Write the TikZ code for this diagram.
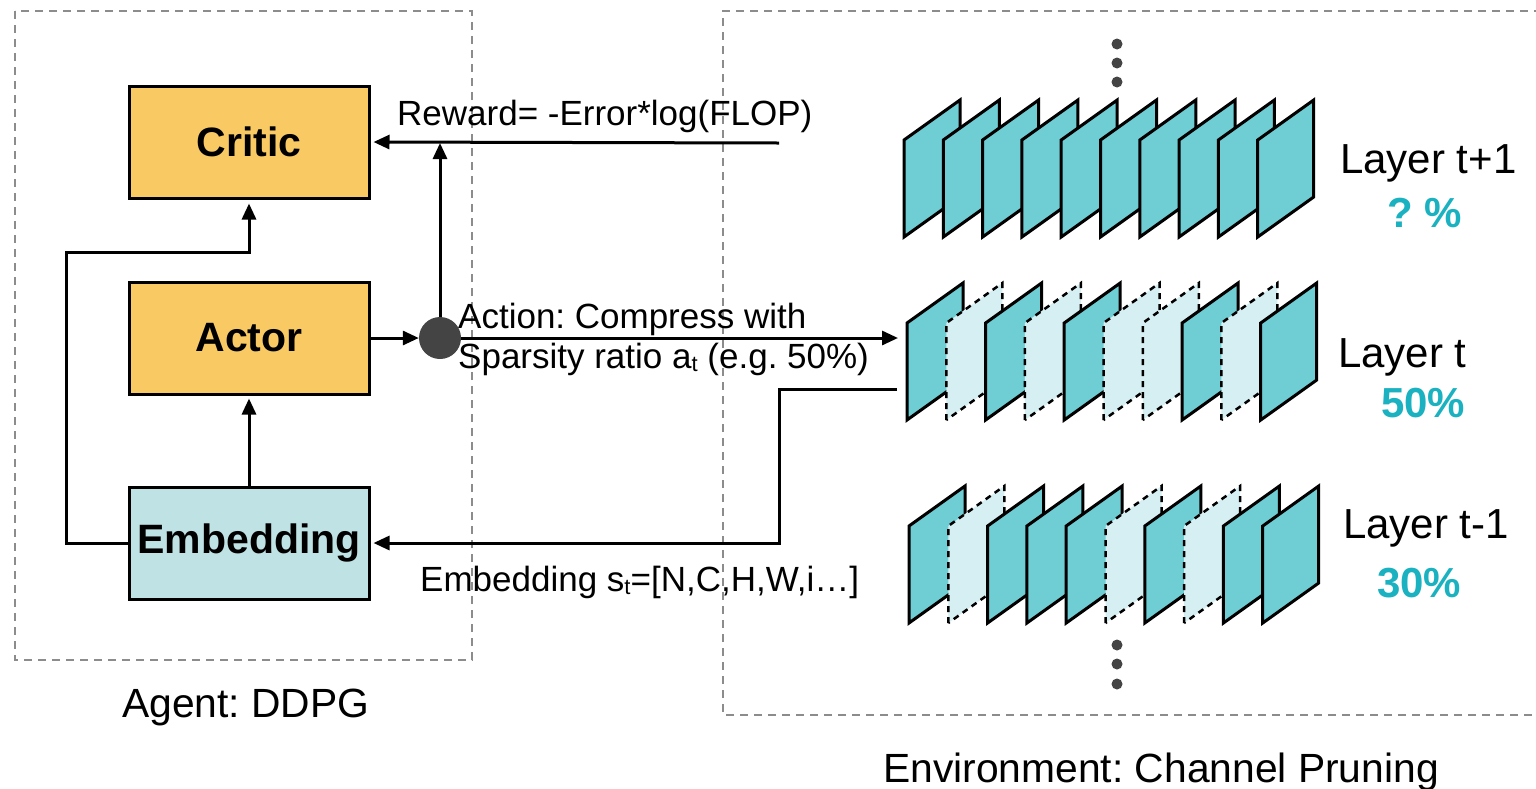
\documentclass[tikz,border=0pt]{standalone}
\usepackage{fontspec}
\setmainfont{Liberation Sans}
\usetikzlibrary{arrows.meta}
\frenchspacing

\definecolor{boxorange}{HTML}{F9C964}
\definecolor{boxblue}{HTML}{BFE2E5}
\definecolor{chan}{HTML}{6FCDD4}
\definecolor{chanpruned}{HTML}{D6EFF2}
\definecolor{pct}{HTML}{1AB1C0}
\definecolor{framegray}{HTML}{8C8C8C}
\definecolor{dotgray}{HTML}{444444}

% small lowered letter used for the subscript t
\newcommand\lowt[1]{{\fontsize{22}{24}\selectfont\raisebox{-3pt}{#1}}}

% one channel plane, given its bottom-left corner and a style
\newcommand\channel[3]{%
  \draw[#3] (#1,#2) -- ++(0,-97) -- ++(56,-40) -- ++(0,97) -- cycle;}

\tikzset{
  module/.style={draw=black, line width=3pt, minimum width=240pt,
    minimum height=112pt, inner sep=0pt,
    font=\fontsize{41}{44}\selectfont\bfseries},
  link/.style={line width=3pt, draw=black},
  arr/.style={link, -{Triangle[length=16pt,width=14pt]}},
  region/.style={draw=framegray, line width=1.6pt, dash pattern=on 8pt off 6pt},
  keep/.style={fill=chan, draw=black, line width=3pt, line join=miter},
  pruned/.style={fill=chanpruned, draw=black, line width=2.5pt,
    dash pattern=on 6pt off 5pt},
  lbl/.style={inner sep=0pt, font=\fontsize{35}{40}\selectfont},
  layerlbl/.style={inner sep=0pt, font=\fontsize{42}{46}\selectfont},
  pctlbl/.style={inner sep=0pt, text=pct, font=\fontsize{42}{46}\selectfont\bfseries},
  caption/.style={inner sep=0pt, font=\fontsize{40.8}{44}\selectfont},
  vdot/.style={fill=dotgray}
}

\begin{document}
\begin{tikzpicture}[x=1pt,y=-1pt]
\useasboundingbox (0,0) rectangle (1536,788);
\fill[white] (0,0) rectangle (1536,788);

% agent and environment frames
\draw[region] (15,11) rectangle (472,660);
\draw[region] (1560,715) -- (723,715) -- (723,11) -- (1560,11);

% DDPG modules
\node[module, fill=boxorange] (critic) at (249,142) {Critic};
\node[module, fill=boxorange] (actor) at (249,338) {Actor};
\node[module, fill=boxblue] (embed) at (249,543) {\raisebox{-4pt}{Embedding}};

% action junction
\node[circle, fill=dotgray, minimum size=42pt, inner sep=0pt] (j) at (440,338) {};

% connector end points
\coordinate (rstart) at (779,143);
\coordinate (rmid) at (440,143);
\coordinate (actend) at (898,338);
\coordinate (fbstart) at (897,389);
\coordinate (fbcorner) at (779,389);
\coordinate (loop) at (66,252);

% connectors
\draw[arr, shorten >=3pt] (rstart) -- (critic.east);
\draw[arr] (j.north) -- (rmid);
\draw[arr] (actor.east) -- (j.west);
\draw[arr] (j.east) -- (actend);
\draw[arr, shorten >=3pt] (fbstart) -- (fbcorner) |- (embed.east);
\draw[arr, shorten >=3pt] (embed.north) -- (actor.south);
\draw[arr, shorten >=4pt] (embed.west) -| (loop) -- (loop -| critic.south) -- (critic.south);

% edge labels
\node[lbl, anchor=base west] (reward) at (397,125) {Reward= -Error*log(FLOP)};
\node[lbl, anchor=base west] (act1) at (458,328) {Action: Compress with};
\node[lbl, anchor=base west] (act2) at (458,368) {Sparsity ratio a\lowt{t} (e.g. 50\%)};
\node[lbl, anchor=base west] (state) at (420,591) {Embedding s\lowt{t}=[N,C,H,W,i…]};

% layer t+1: all channels kept
\foreach \s [count=\i from 0] in {keep,keep,keep,keep,keep,keep,keep,keep,keep,keep}
  \channel{904+39.3*\i}{237}{\s};
% layer t: half of the channels pruned
\foreach \s [count=\i from 0] in {keep,pruned,keep,pruned,keep,pruned,pruned,keep,pruned,keep}
  \channel{907+39.3*\i}{420}{\s};
% layer t-1: 30% of the channels pruned
\foreach \s [count=\i from 0] in {keep,pruned,keep,keep,keep,pruned,keep,pruned,keep,keep}
  \channel{909+39.3*\i}{623}{\s};

% more layers above and below
\foreach \yy in {44,63,82,645,664,684}
  \fill[vdot] (1117,\yy) circle (5.5);

% layer labels
\node[layerlbl, anchor=base west] (l1) at (1340,173) {Layer t+1};
\node[pctlbl, anchor=base west] (p1) at (1387,227) {? \%};
\node[layerlbl, anchor=base west] (l2) at (1338,367) {Layer t};
\node[pctlbl, anchor=base west] (p2) at (1381,417) {50\%};
\node[layerlbl, anchor=base west] (l3) at (1343,538) {Layer t-1};
\node[pctlbl, anchor=base west] (p3) at (1377,597) {30\%};

% frame captions
\node[caption, anchor=base west] (agent) at (122,717) {Agent: DDPG};
\node[caption, anchor=base west] (env) at (883,782) {Environment: Channel Pruning};
\end{tikzpicture}
\end{document}
